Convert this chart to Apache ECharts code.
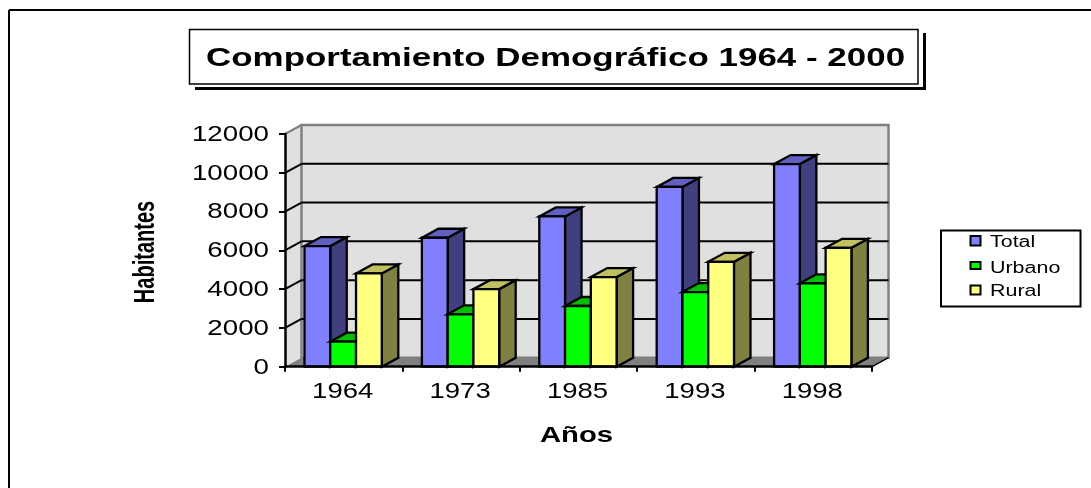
<!DOCTYPE html>
<html>
<head>
<meta charset="utf-8">
<style>html,body{margin:0;padding:0;background:#fff}#c{width:1091px;height:488px}</style>
<script src="https://cdn.jsdelivr.net/npm/echarts@6/dist/echarts.min.js"></script>
</head>
<body>
<div id="c"></div>
<script>
const chartTitle = 'Comportamiento Demográfico 1964 - 2000';
const xName = 'Años';
const yName = 'Habitantes';
const categories = ['1964', '1973', '1985', '1993', '1998'];
const yTicks = [0, 2000, 4000, 6000, 8000, 10000, 12000];
const total = [6220, 6650, 7750, 9270, 10450];
const urbano = [1290, 2700, 3130, 3850, 4300];
const rural = [4810, 4000, 4620, 5410, 6130];
const seriesNames = ['Total', 'Urbano', 'Rural'];

const FONT = '"Liberation Sans", Arial, sans-serif';
const DX = 16.5, DY = 9;
const front = ['#8080FF', '#00FF00', '#FFFF80'];
const top_ = ['#6060C0', '#00C000', '#C0C060'];
const side = ['#404080', '#008000', '#808040'];
const BAR_START = 0.166, BAR_W = 0.2195;

function stretched(text, x, baseline, size, sx, bold, align) {
  return {
    type: 'text', x, y: baseline - 0.35 * size, scaleX: sx, silent: true,
    style: { text, font: (bold ? 'bold ' : '') + size + 'px ' + FONT, fill: '#000', align: align || 'left', verticalAlign: 'middle' }
  };
}

function barRender(k) {
  return function (params, api) {
    const idx = api.value(0), val = api.value(1);
    const band = api.size([1, 0])[0];
    const base = api.coord([idx, 0]);
    const topP = api.coord([idx, val]);
    const x0 = base[0] - band / 2 + band * (BAR_START + BAR_W * k);
    const w = band * BAR_W;
    const yT = topP[1], yB = base[1];
    const s = { stroke: '#000', lineWidth: 2.3, lineJoin: 'miter' };
    return {
      type: 'group',
      children: [
        { type: 'polygon', shape: { points: [[x0 + w, yT], [x0 + w + DX, yT - DY], [x0 + w + DX, yB - DY], [x0 + w, yB]] }, style: Object.assign({ fill: side[k] }, s) },
        { type: 'polygon', shape: { points: [[x0, yT], [x0 + DX, yT - DY], [x0 + w + DX, yT - DY], [x0 + w, yT]] }, style: Object.assign({ fill: top_[k] }, s) },
        { type: 'rect', shape: { x: x0, y: yT, width: w, height: yB - yT }, style: Object.assign({ fill: front[k] }, s) }
      ]
    };
  };
}

function wallRender(params, api) {
  const cs = params.coordSys;
  const v = api.value(1);
  const y = api.coord([0, v])[1];
  const kids = [];
  const L = cs.x, R = cs.x + cs.width;
  if (params.dataIndex === 0) {
    const T = cs.y, B = cs.y + cs.height;
    kids.push({ type: 'polygon', shape: { points: [[L, T], [L + DX, T - DY], [L + DX, B - DY], [L, B]] }, style: { fill: '#E0E0E0', stroke: 'none' } });
    kids.push({ type: 'rect', shape: { x: L + DX, y: T - DY, width: cs.width, height: cs.height }, style: { fill: '#E0E0E0', stroke: '#808080', lineWidth: 2.5 } });
    kids.push({ type: 'polygon', shape: { points: [[L, B], [L + DX, B - DY], [R + DX, B - DY], [R, B]] }, style: { fill: '#808080', stroke: 'none' } });
    kids.push({ type: 'line', shape: { x1: R, y1: B, x2: R + DX, y2: B - DY }, style: { stroke: '#000', lineWidth: 1.5 } });
    kids.push({ type: 'line', shape: { x1: L, y1: T, x2: L + DX, y2: T - DY }, style: { stroke: '#808080', lineWidth: 2 } });
  } else if (v < 12000) {
    kids.push({ type: 'line', shape: { x1: L + DX, y1: y - DY, x2: R + DX, y2: y - DY }, style: { stroke: '#000', lineWidth: 2 } });
    kids.push({ type: 'line', shape: { x1: L, y1: y, x2: L + DX, y2: y - DY }, style: { stroke: '#000', lineWidth: 2 } });
  }
  kids.push(stretched(String(v), L - 16, y + 8.5, 22, 1.26, false, 'right'));
  return { type: 'group', children: kids };
}

function yearRender(params, api) {
  const p = api.coord([api.value(0), 0]);
  return stretched(categories[params.dataIndex], p[0] - 1, p[1] + 33, 22, 1.25, false, 'center');
}

const legendY = [[236, 9.5, 248], [262, 7, 274], [285.5, 9, 297]];
const legendChildren = [
  { type: 'rect', shape: { x: 941, y: 230.5, width: 139.5, height: 76 }, style: { fill: '#fff', stroke: '#000', lineWidth: 2 } }
];
seriesNames.forEach((n, i) => {
  legendChildren.push({ type: 'rect', shape: { x: 970.5, y: legendY[i][0], width: 10, height: legendY[i][1] }, style: { fill: front[i], stroke: '#000', lineWidth: 2 } });
  legendChildren.push(stretched(n, 990, legendY[i][2], 16, 1.34, false));
});

const chart = echarts.init(document.getElementById('c'));
chart.setOption({
  animation: false,
  backgroundColor: '#fff',
  grid: { left: 285, top: 134, width: 587, height: 232.7 },
  xAxis: {
    type: 'category', data: categories, boundaryGap: true,
    axisLine: { show: true, lineStyle: { color: '#000', width: 2.5 } },
    axisTick: { show: true, alignWithLabel: false, length: 5, lineStyle: { color: '#000', width: 2 } },
    axisLabel: { show: false }, splitLine: { show: false }, z: 5
  },
  yAxis: {
    type: 'value', min: 0, max: 12000, interval: 2000,
    axisLine: { show: true, lineStyle: { color: '#000', width: 2.5 } },
    axisTick: { show: true, length: 6, lineStyle: { color: '#000', width: 2 } },
    axisLabel: { show: false }, splitLine: { show: false }, z: 5
  },
  graphic: [
    { type: 'line', z: 1, shape: { x1: 9, y1: 10, x2: 1091, y2: 10 }, style: { stroke: '#000', lineWidth: 2 } },
    { type: 'line', z: 1, shape: { x1: 9, y1: 10, x2: 9, y2: 488 }, style: { stroke: '#000', lineWidth: 2 } },
    { type: 'rect', z: 1, shape: { x: 189.5, y: 29.5, width: 728.5, height: 54.5 }, style: { fill: '#fff', stroke: '#000', lineWidth: 1.5 } },
    { type: 'line', z: 1, shape: { x1: 195, y1: 88.5, x2: 926, y2: 88.5 }, style: { stroke: '#000', lineWidth: 3 } },
    { type: 'line', z: 1, shape: { x1: 924.5, y1: 33, x2: 924.5, y2: 90 }, style: { stroke: '#000', lineWidth: 3 } },
    Object.assign(stretched(chartTitle, 206, 68, 26, 1.344, true), { z: 2 }),
    Object.assign(stretched(xName, 576.5, 444, 22, 1.33, true, 'center'), { z: 2 }),
    Object.assign(stretched(yName, 0, 0, 29, 0.69, true, 'center'), { z: 2, rotation: Math.PI / 2, x: 146, y: 252 }),
    { type: 'group', z: 2, children: legendChildren }
  ],
  series: [
    { type: 'custom', name: 'wall', renderItem: wallRender, data: yTicks.map(v => [0, v]), encode: { x: 0, y: 1 }, z: 1, clip: false, silent: true },
    { type: 'custom', name: seriesNames[0], renderItem: barRender(0), data: total.map((v, i) => [i, v]), encode: { x: 0, y: 1 }, z: 2, clip: false },
    { type: 'custom', name: seriesNames[1], renderItem: barRender(1), data: urbano.map((v, i) => [i, v]), encode: { x: 0, y: 1 }, z: 3, clip: false },
    { type: 'custom', name: seriesNames[2], renderItem: barRender(2), data: rural.map((v, i) => [i, v]), encode: { x: 0, y: 1 }, z: 4, clip: false },
    { type: 'custom', name: 'years', renderItem: yearRender, data: categories.map((c, i) => [i, 0]), encode: { x: 0, y: 1 }, z: 6, clip: false, silent: true }
  ]
});
</script>
</body>
</html>
